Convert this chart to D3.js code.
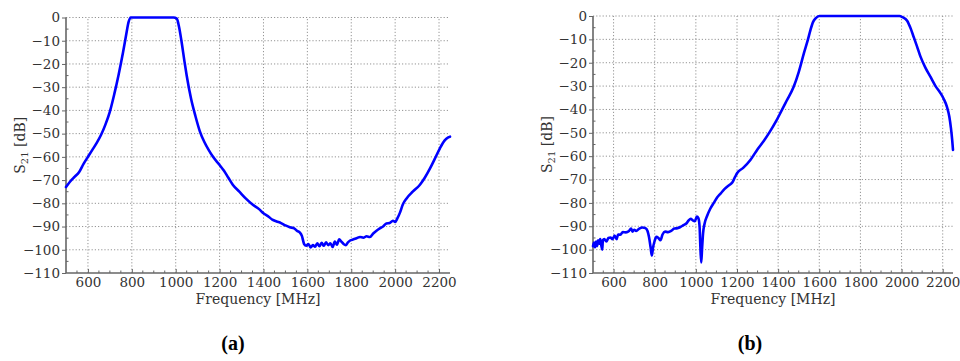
<!DOCTYPE html>
<html><head><meta charset="utf-8">
<script src="https://cdn.jsdelivr.net/npm/d3@7"></script>
<style>body{margin:0;background:#fff}svg{display:block}</style>
</head><body>
<svg id="c" width="960" height="361"></svg>
<script>
const xTicks = [600,800,1000,1200,1400,1600,1800,2000,2200];
const yTicks = [0,-10,-20,-30,-40,-50,-60,-70,-80,-90,-100,-110];

const freqA = [500,520,540,560,580,600,620,640,660,680,700,720,740,760,775,785,795,820,850,900,950,990,1005,1015,1026,1040,1050,1070,1090,1110,1130,1150,1170,1200,1220,1240,1260,1290,1320,1350,1380,1400,1420,1440,1460,1480,1500,1520,1540,1555,1565,1575,1585,1595,1605,1615,1625,1635,1645,1655,1665,1675,1685,1695,1705,1715,1725,1735,1745,1755,1765,1775,1785,1795,1810,1825,1840,1855,1870,1885,1900,1915,1930,1945,1960,1975,1990,2000,2010,2022,2035,2053,2080,2113,2135,2159,2180,2204,2225,2242,2250];
const s21A = [-73,-70.5,-68.5,-66.5,-63,-60,-57,-54,-50.5,-46,-40.5,-33,-24.5,-15,-7,-2,0,0,0,0,0,0,-0.5,-4,-10,-19,-25,-35,-42.5,-49,-53.5,-57,-60,-63.5,-66,-69,-72,-75,-78,-80.5,-82.5,-84.3,-85.5,-87,-87.8,-88.5,-89.5,-90.3,-90.8,-92,-92.5,-94,-97.5,-98.3,-97.5,-99,-98,-98.7,-97.2,-98.5,-97,-98.3,-96.8,-98,-97.2,-98.8,-96.5,-97.8,-95.5,-96.5,-97.5,-98,-96.8,-96,-95.5,-95,-94.5,-94.8,-94.2,-94.5,-93,-91.8,-90.8,-90,-88.7,-88.5,-87.5,-88,-86.5,-84,-80.5,-77.8,-75,-72,-69,-65,-61,-56.3,-53,-51.6,-51.3];

const freqB = [500,505,510,515,520,525,530,535,540,545,548,555,565,575,585,595,605,615,622,632,645,660,675,685,692,700,710,725,740,755,765,772,780,786,792,799,808,818,828,838,850,865,880,895,910,925,940,955,965,975,985,995,1005,1012,1018,1022,1026,1030,1035,1042,1055,1070,1087,1105,1120,1140,1160,1177,1190,1201,1230,1266,1300,1330,1360,1390,1411,1440,1476,1500,1525,1545,1557,1570,1582,1600,1700,1800,1900,1990,2005,2027,2045,2059,2075,2092,2115,2140,2165,2189,2205,2221,2232,2240,2246,2250];
const s21B = [-98.5,-97,-99,-96.5,-98.5,-96,-97.5,-95.5,-98,-100,-96,-95.5,-96.5,-95,-94.8,-95.5,-94,-95.5,-93.5,-93.6,-92.5,-92.6,-92,-91,-92.3,-91.5,-92,-91,-90.5,-90.8,-92,-94.5,-99,-102.6,-99,-96.5,-94.5,-95,-96,-93.5,-92.3,-92.5,-92,-91,-90.8,-90.3,-89.5,-88.7,-87.5,-86.8,-87.5,-87.8,-85.8,-86.5,-90,-99,-105.5,-100,-93,-89,-85.5,-82.5,-80,-77.5,-76,-74,-72.5,-71.3,-69,-67.2,-65,-61.5,-57,-53.5,-49.5,-45,-41.5,-36.5,-30.2,-24,-16,-10,-6,-2.5,-1,0,0,0,0,0,-0.5,-2,-5.5,-9,-13,-17.4,-22,-26,-30,-33,-35.5,-39,-43,-48,-53,-57.3];

const svg = d3.select("#c");
const tickFont = "'DejaVu Serif', serif";

function panel(cfg, freq, vals, tag) {
  const x = d3.scaleLinear().domain([500,2250]).range([cfg.x0, cfg.x1]);
  const y = d3.scaleLinear().domain([-110,0]).range([cfg.y0, cfg.y1]);
  const g = svg.append("g");
  // grid
  g.append("g").selectAll("line").data(xTicks).join("line")
    .attr("x1", d=>x(d)).attr("x2", d=>x(d)).attr("y1", y(-110)).attr("y2", y(0))
    .attr("stroke","#888").attr("stroke-width",0.9).attr("stroke-dasharray","1.2,2");
  g.append("g").selectAll("line").data(yTicks.filter(d=>d>-110)).join("line")
    .attr("x1", x(500)).attr("x2", x(2250)).attr("y1", d=>y(d)).attr("y2", d=>y(d))
    .attr("stroke","#888").attr("stroke-width",0.9).attr("stroke-dasharray","1.2,2");
  // minor ticks
  const minorX = d3.range(550, 2250, 50).filter(d=>d%200!==0);
  g.append("g").selectAll("line").data(minorX).join("line")
    .attr("x1", d=>x(d)).attr("x2", d=>x(d)).attr("y1", y(-110)).attr("y2", y(-110)-2.5)
    .attr("stroke","#666").attr("stroke-width",1);
  const minorY = d3.range(-105, 0, 10);
  g.append("g").selectAll("line").data(minorY).join("line")
    .attr("x1", x(500)).attr("x2", x(500)+2.5).attr("y1", d=>y(d)).attr("y2", d=>y(d))
    .attr("stroke","#666").attr("stroke-width",1);
  // axes
  const xa = g.append("g").attr("transform",`translate(0,${y(-110)})`)
    .call(d3.axisBottom(x).tickValues(xTicks).tickSizeInner(-4).tickSizeOuter(0).tickPadding(4).tickFormat(d3.format("d")));
  const ya = g.append("g").attr("transform",`translate(${x(500)},0)`)
    .call(d3.axisLeft(y).tickValues(yTicks).tickSizeInner(4).tickSizeOuter(0).tickPadding(2).tickFormat(d3.format("d")));
  [xa, ya].forEach(a => {
    a.select(".domain").attr("stroke","#666").attr("stroke-width",1.6);
    a.selectAll(".tick line").attr("stroke","#666").attr("stroke-width",1);
    a.selectAll("text").attr("font-family", tickFont).attr("font-size", 13.5).attr("fill","#333");
  });
  ya.select(".domain").attr("d", `M0,${y(0)}V${y(-110)}`);
  xa.select(".domain").attr("d", `M${x(500)},0H${x(2250)}`);
  // line
  const pts = freq.map((f,i)=>[f, vals[i]]);
  g.append("path").datum(pts)
    .attr("d", d3.line().x(d=>x(d[0])).y(d=>y(d[1])).curve(d3.curveMonotoneX))
    .attr("fill","none").attr("stroke","#0000ff").attr("stroke-width",2.6)
    .attr("stroke-linejoin","round").attr("stroke-linecap","round");
  // labels
  const cx = (cfg.x0 + cfg.x1) / 2;
  g.append("text").attr("x", cx).attr("y", 304).attr("text-anchor","middle")
    .attr("font-family", tickFont).attr("font-size", 14).attr("fill","#333")
    .text("Frequency [MHz]");
  const yl = g.append("text")
    .attr("transform", `translate(${cfg.ylx},${(cfg.y0+cfg.y1)/2}) rotate(-90)`)
    .attr("text-anchor","middle").attr("font-family", tickFont).attr("font-size",14).attr("fill","#333");
  yl.append("tspan").text("S");
  yl.append("tspan").attr("font-size",10).attr("dy",3).text("21");
  yl.append("tspan").attr("dy",-3).text(" [dB]");
  g.append("text").attr("x", cfg.tagx).attr("y", 350).attr("text-anchor","middle")
    .attr("font-family","'Liberation Serif', serif").attr("font-weight","bold").attr("font-size",20).attr("fill","#000")
    .text(tag);
}

panel({x0:66, x1:450, y0:273, y1:17.5, ylx:25, tagx:233}, freqA, s21A, "(a)");
panel({x0:593, x1:953, y0:273, y1:16, ylx:552, tagx:750}, freqB, s21B, "(b)");
</script>
</body></html>
